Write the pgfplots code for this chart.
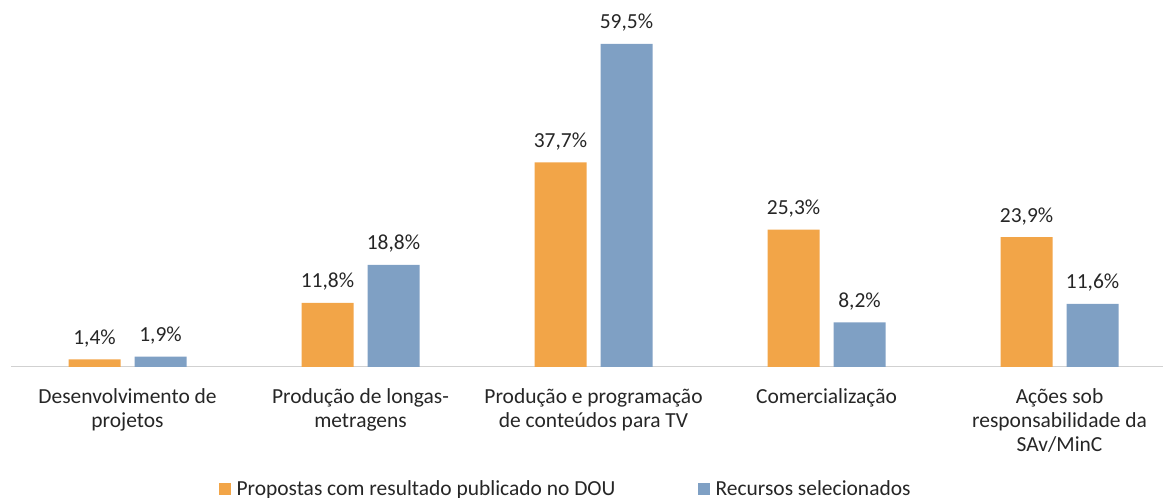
\documentclass[border=0pt]{standalone}
\usepackage{fontspec}
\setmainfont{Carlito}
\usepackage{pgfplots}
\pgfplotsset{compat=1.18}
\definecolor{corange}{RGB}{242,165,72}
\definecolor{cblue}{RGB}{127,160,196}
\definecolor{ctext}{RGB}{38,38,38}
\newcommand{\lfont}{\fontsize{16.1}{18}\selectfont}
\begin{document}
\begin{tikzpicture}
\begin{axis}[
  at={(8.25pt,98.25pt)}, anchor=south west,
  scale only axis, width=864pt, height=264.75pt,
  xmin=-0.5, xmax=4.444, ymin=0, ymax=65,
  ybar=10.5pt, bar width=39pt,
  axis x line*=bottom, axis y line=none,
  x axis line style={draw=black!18, line width=0.75pt},
  xtick={0,1,2,3,4}, major tick length=0pt,
  xticklabels={{Desenvolvimento de\\projetos},{Produção de longas-\\metragens},{Produção e programação\\de conteúdos para TV},{Comercialização},{Ações sob\\responsabilidade da\\SAv/MinC}},
  xticklabel style={align=center, font=\lfont, text=ctext, anchor=north, inner sep=0pt, yshift=-16pt},
  ytick=\empty,
  nodes near coords={\pgfmathprintnumber[fixed,fixed zerofill,precision=1,use comma,assume math mode=true]{\pgfplotspointmeta}\%},
  every node near coord/.append style={font=\lfont, text=ctext, anchor=base, inner sep=0pt, yshift=11.25pt},
  legend style={at={(0.4805,-0.3456)}, anchor=center, draw=none, fill=none, font=\lfont, text=ctext, inner sep=0pt,
    nodes={inner sep=0pt},
    /tikz/every odd column/.append style={column sep=4.5pt},
    /tikz/every even column/.append style={column sep=61.5pt}},
  legend columns=2,
]
\addplot[fill=corange, draw=none, legend image code/.code={\fill[corange] (0pt,-4.5pt) rectangle (9pt,4.5pt);}]
  coordinates {(0,1.4) (1,11.8) (2,37.7) (3,25.3) (4,23.9)};
\addlegendentry{Propostas com resultado publicado no DOU}
\addplot[fill=cblue, draw=none, legend image code/.code={\fill[cblue] (0pt,-4.5pt) rectangle (9pt,4.5pt);}]
  coordinates {(0,1.9) (1,18.8) (2,59.5) (3,8.2) (4,11.6)};
\addlegendentry{Recursos selecionados}
\end{axis}
\pgfresetboundingbox
\useasboundingbox (0,0) rectangle (872.25pt,373.5pt);
\end{tikzpicture}
\end{document}
